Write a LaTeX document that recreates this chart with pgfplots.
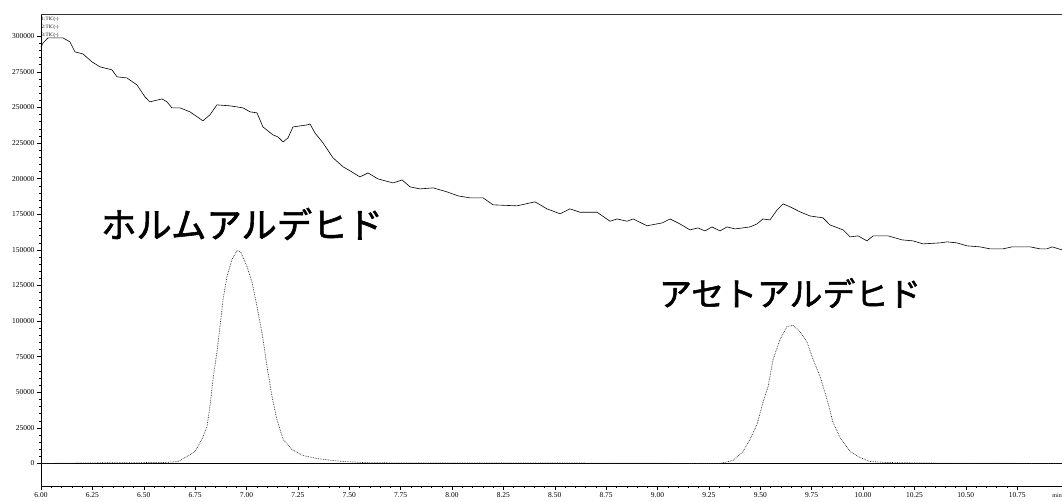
\documentclass[border=0pt]{standalone}
\usepackage{pgfplots}
\pgfplotsset{compat=1.18}
\usepackage{fontspec}
\setmainfont{Liberation Serif}
\newfontfamily\cjk[FakeBold=1.6]{Noto Sans CJK JP}
\begin{document}
\begin{tikzpicture}
\path[use as bounding box] (-41bp,-16bp) rectangle (1021bp,486bp);
\begin{axis}[
  at={(0,0)}, anchor=south west,
  scale only axis, width=1021bp, height=472bp,
  xmin=6, xmax=10.968, ymin=-15800, ymax=315600,
  xtick={6,6.25,...,10.8}, minor x tick num=4,
  ytick={0,25000,...,300000}, minor y tick num=4,
  scaled y ticks=false, scaled x ticks=false,
  tick align=outside,
  major tick length=4bp, minor tick length=2bp,
  axis x line*=bottom, axis y line*=left,
  axis line style={line width=0.5bp, black},
  tick style={line width=0.4bp, black},
  /pgf/number format/assume math mode=true,
  /pgf/number format/fixed,
  /pgf/number format/set thousands separator={},
  tick label style={font=\fontsize{7.5}{7.5}\selectfont},
  xticklabel style={yshift=1bp, /pgf/number format/fixed zerofill, /pgf/number format/precision=2},
  yticklabel style={xshift=1bp, /pgf/number format/precision=0},
  clip=false,
]
% top frame line
\draw[line width=0.5bp, black!80] (rel axis cs:0,1) -- (rel axis cs:1,1);
% upper trace
\addplot[black, line width=0.6bp] coordinates {
(6.000,292500) (6.010,295300) (6.034,298800) (6.107,298800) (6.141,296000)
(6.165,289000) (6.204,287600) (6.248,282000) (6.287,278500) (6.345,276400)
(6.370,271500) (6.418,270700) (6.467,265800) (6.506,257400) (6.530,253900)
(6.589,256000) (6.613,253900) (6.637,249700) (6.676,249700) (6.725,246900)
(6.788,240600) (6.822,244800) (6.856,251800) (6.920,251100) (6.983,249700)
(7.017,246900) (7.051,246200) (7.080,236300) (7.129,230700) (7.153,229300)
(7.178,225800) (7.202,228600) (7.226,236300) (7.294,237700) (7.309,238400)
(7.333,232100) (7.372,225100) (7.421,214600) (7.470,208300) (7.513,204700)
(7.552,201200) (7.591,204000) (7.640,199800) (7.713,197000) (7.757,199100)
(7.796,194200) (7.844,192800) (7.908,193500) (7.976,190700) (8.029,187900)
(8.088,186500) (8.151,186500) (8.200,181600) (8.316,180900) (8.404,183700)
(8.462,178800) (8.526,175300) (8.574,178800) (8.623,176400) (8.706,176400)
(8.769,170100) (8.803,171700) (8.852,170100) (8.881,171700) (8.949,166900)
(9.022,168900) (9.061,171700) (9.109,168200) (9.158,164000) (9.197,165400)
(9.231,163300) (9.265,166100) (9.304,163300) (9.338,166100) (9.377,164700)
(9.450,166100) (9.484,168200) (9.513,171700) (9.547,171000) (9.582,178100)
(9.611,182300) (9.645,180200) (9.693,176700) (9.742,173800) (9.805,172500)
(9.839,167500) (9.903,164000) (9.937,159100) (9.976,159800) (10.019,156300)
(10.049,159800) (10.122,159800) (10.190,157000) (10.243,156300) (10.292,154200)
(10.375,154900) (10.409,155600) (10.457,154900) (10.506,152800) (10.569,152100)
(10.618,150700) (10.681,150700) (10.725,152100) (10.813,152100) (10.861,150700)
(10.895,150700) (10.920,152100) (10.968,150000)
};
% baseline
\addplot[black, line width=0.8bp] coordinates {(6.0,0) (10.968,0)};
% peak trace
\addplot[black!85, line width=0.7bp, densely dotted] coordinates {
(6.000,0) (6.300,500) (6.600,700) (6.667,1400) (6.710,4900) (6.749,8400)
(6.783,16900) (6.808,26000) (6.822,40000) (6.837,59000) (6.856,77900)
(6.871,96200) (6.886,115200) (6.905,131300) (6.929,143200) (6.954,149600)
(6.973,148200) (7.002,138300) (7.027,127100) (7.051,110200) (7.075,92000)
(7.100,68100) (7.124,47000) (7.148,30900) (7.178,16900) (7.221,9800)
(7.275,5600) (7.343,3500) (7.421,2100) (7.470,1400) (7.600,500) (8.000,300)
(8.600,300) (9.304,0) (9.367,2100) (9.416,8400) (9.450,16900) (9.484,27400)
(9.513,42800) (9.538,54100) (9.562,73000) (9.596,87100) (9.630,96200)
(9.659,96900) (9.693,92700) (9.728,85000) (9.757,73000) (9.791,61100)
(9.825,44900) (9.854,28800) (9.888,18300) (9.937,8400) (9.985,4200)
(10.034,1400) (10.117,700) (10.300,300) (10.968,0)
};
\node[font=\cjk\fontsize{35.5}{35.5}\selectfont, inner sep=0pt] at (axis cs:6.978,168200) {ホルムアルデヒド};
\node[font=\cjk\fontsize{33}{33}\selectfont, inner sep=0pt] at (axis cs:9.645,119700) {アセトアルデヒド};
\node[font=\fontsize{5}{5}\selectfont, anchor=north west, inner sep=0.5bp] at (rel axis cs:0,0.995) {1:TIC(-)};
\node[font=\fontsize{5}{5}\selectfont, anchor=north west, inner sep=0.5bp] at (rel axis cs:0,0.978) {2:TIC(-)};
\node[font=\fontsize{5}{5}\selectfont, anchor=north west, inner sep=0.5bp] at (rel axis cs:0,0.961) {3:TIC(-)};
\node[font=\fontsize{6}{6}\selectfont, anchor=north east, inner sep=0pt] at ([yshift=-7bp]rel axis cs:1,0) {min};
\end{axis}
\end{tikzpicture}
\end{document}
